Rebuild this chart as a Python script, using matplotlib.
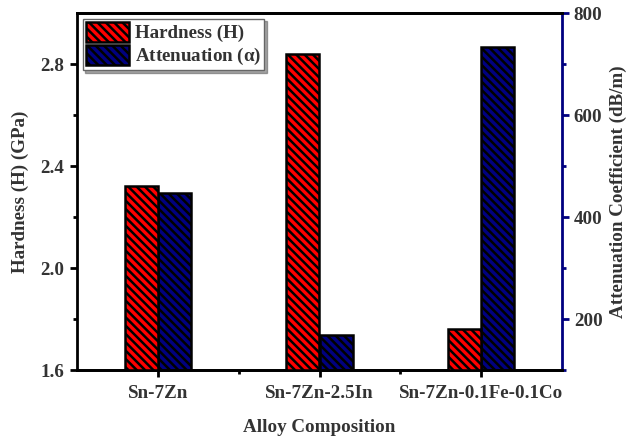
import matplotlib
matplotlib.use("Agg")
import matplotlib.pyplot as plt
import numpy as np
from matplotlib.ticker import FixedLocator

categories = ["Sn-7Zn", "Sn-7Zn-2.5In", "Sn-7Zn-0.1Fe-0.1Co"]
hardness = [2.32, 2.84, 1.76]
attenuation = [448, 168, 733]
legend_labels = ["Hardness (H)", r"Attenuation ($\mathbf{\alpha}$)"]

plt.rcParams['font.family'] = ['Liberation Serif', 'DejaVu Serif']
plt.rcParams['font.weight'] = 'bold'
plt.rcParams['mathtext.fontset'] = 'custom'
plt.rcParams['mathtext.rm'] = 'Liberation Serif:bold'
plt.rcParams['mathtext.bf'] = 'Liberation Serif:bold'
plt.rcParams['mathtext.it'] = 'Liberation Serif:bold'
plt.rcParams['hatch.linewidth'] = 1.8
plt.rcParams['hatch.color'] = 'black'

fs = 13.7
txt = '#333333'
fig = plt.figure(figsize=(6.29, 4.38), dpi=100)
ax = fig.add_axes([77/629, 1-370/438, (562-77)/629, (370-13)/438])
ax2 = ax.twinx()

x = np.arange(len(categories))
w = 0.205
b1 = ax.bar(x - w/2, [h - 1.6 for h in hardness], w, bottom=1.6, color='#ff0000',
            edgecolor='black', linewidth=1.8, hatch='\\\\\\\\', label=legend_labels[0], zorder=3)
b2 = ax2.bar(x + w/2, [a - 100 for a in attenuation], w, bottom=100, color='#000080',
             edgecolor='black', linewidth=1.8, hatch='\\\\\\\\', label=legend_labels[1], zorder=3)

ax.set_xlim(-0.5, 2.5)
ax.set_ylim(1.6, 3.0)
ax2.set_ylim(100, 800)

ax.set_xticks(x)
ax.set_xticklabels(categories)
ax.xaxis.set_minor_locator(FixedLocator([0.5, 1.5]))
ax.yaxis.set_major_locator(FixedLocator([1.6, 2.0, 2.4, 2.8]))
ax.yaxis.set_minor_locator(FixedLocator([1.8, 2.2, 2.6]))
ax2.yaxis.set_major_locator(FixedLocator([200, 400, 600, 800]))
ax2.yaxis.set_minor_locator(FixedLocator([100, 300, 500, 700]))

for a in (ax, ax2):
    for s in a.spines.values():
        s.set_linewidth(2)
ax2.spines['right'].set_color('#000080')
ax2.spines['left'].set_visible(False)
ax.spines['right'].set_visible(False)

ax.tick_params(axis='both', which='major', direction='out', length=5, width=2,
               labelsize=fs, labelcolor=txt, pad=4)
ax.tick_params(axis='both', which='minor', direction='out', length=3, width=2)
ax.tick_params(axis='x', which='major', pad=6)
ax2.tick_params(axis='y', which='major', direction='out', length=5, width=2,
                labelsize=fs, labelcolor=txt, color='#000080')
ax2.tick_params(axis='y', which='minor', direction='out', length=3, width=2, color='#000080')

ax.set_ylabel("Hardness (H) (GPa)", fontsize=fs, color=txt, fontweight='bold', labelpad=8)
ax.set_xlabel("Alloy Composition", fontsize=fs, color=txt, fontweight='bold', labelpad=12)
ax2.set_ylabel("Attenuation Coefficient (dB/m)", fontsize=fs, color=txt, fontweight='bold', labelpad=5)

leg = ax.legend([b1, b2], legend_labels, loc='upper left', bbox_to_anchor=(0.0, 1.0),
                fontsize=fs, frameon=True, shadow=True, fancybox=False,
                handlelength=2.3, handleheight=1.3, borderpad=0.15, labelspacing=0.12,
                handletextpad=0.3, borderaxespad=0.3)
leg.get_frame().set_edgecolor('#666666')
leg.get_frame().set_linewidth(1)
for t in leg.get_texts():
    t.set_color(txt)
leg.set_zorder(10)
ax.set_zorder(ax2.get_zorder() + 1)
ax.patch.set_visible(False)

fig.savefig("out.png", dpi=100)
